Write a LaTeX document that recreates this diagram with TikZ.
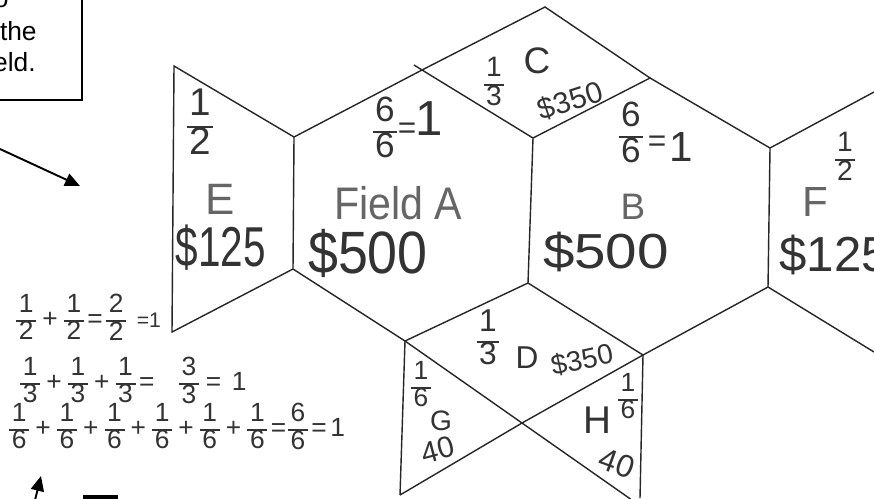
\documentclass[tikz,border=0pt]{standalone}
\usepackage{fontspec}
\setmainfont{Liberation Sans}
\usetikzlibrary{arrows.meta,calc}

\newcommand{\fr}[2]{{\renewcommand{\arraystretch}{0.8}\setlength{\arrayrulewidth}{0.8pt}\begin{tabular}{@{\hspace{1.5pt}}c@{\hspace{1.5pt}}}#1\\\hline #2\end{tabular}}}
\newcommand{\pl}{\hspace{3.5pt}+\hspace{3.5pt}}

\begin{document}
\begin{tikzpicture}[
    x=0.02cm, y=-0.02cm,
    hand/.style={inner sep=0pt, text=black!80},
    pale/.style={inner sep=0pt, text=black!60},
    cell/.style={draw=black!85, line width=0.8pt},
    boxtext/.style={inner sep=0pt, font=\fontsize{15}{18}\selectfont},
    >={Triangle[length=8.5pt,width=7.5pt]}
]
    \fill[white] (0,0) rectangle (874,498);
    \useasboundingbox (0,0) rectangle (874,498);

    % Corners of the fields
    \coordinate (eTL) at (174,66);
    \coordinate (eBL) at (172,332);
    \coordinate (aTL) at (294,137);
    \coordinate (aBL) at (293,269);
    \coordinate (cL) at (422,70);
    \coordinate (cT) at (545,7);
    \coordinate (cR) at (650,78);
    \coordinate (cB) at (533,138);
    \coordinate (cTick) at (414,65);
    \coordinate (aBR) at (528,283);
    \coordinate (fTL) at (770,148);
    \coordinate (bBR) at (768,287);
    \coordinate (fTop) at (874,92);
    \coordinate (fBot) at (874,352);
    \coordinate (dL) at (405,341);
    \coordinate (dR) at (643,355);
    \coordinate (dX) at (522,423);
    \coordinate (gB) at (400,495);
    \coordinate (hB) at (640,498);
    \coordinate (xR) at ($(dL)!1.93!(dX)$);

    \draw[cell] (eTL) -- (eBL) -- (aBL) -- (aTL) -- cycle;
    \draw[cell] (aTL) -- (cL) -- (cB) -- (aBR) -- (dL) -- (aBL);
    \draw[cell] (cL) -- (cT) -- (cR) -- (cB);
    \draw[cell] (cTick) -- (cL);
    \draw[cell] (cR) -- (fTL) -- (bBR) -- (dR) -- (aBR);
    \draw[cell] (fTL) -- (fTop);
    \draw[cell] (bBR) -- (fBot);
    \draw[cell] (dL) -- (gB);
    \draw[cell] (dR) -- (hB);
    \draw[cell] (dL) -- (dX) -- (xR);
    \draw[cell] (dR) -- (dX) -- (gB);

    % Field E
    \node[hand, font=\fontsize{22}{26}\selectfont] (eFrac) at (200,127) {\fr{1}{2}};
    \node[pale, font=\fontsize{25}{30}\selectfont] (eName) at (220,199) {E};
    \node[hand, font=\fontsize{32}{38}\selectfont, xscale=0.72] (ePrice) at (221,248) {\$125};

    % Field A
    \node[hand, font=\fontsize{20}{24}\selectfont] (aFrac) at (385,132) {\fr{6}{6}};
    \node[hand, font=\fontsize{18}{22}\selectfont] (aEq) at (407,131) {=};
    \node[hand, font=\fontsize{28}{34}\selectfont, anchor=west] (aOne) at (415,119) {1};
    \node[pale, font=\fontsize{26}{31}\selectfont, xscale=0.9] (aName) at (398,203) {Field A};
    \node[hand, font=\fontsize{34}{40}\selectfont, xscale=0.9] (aPrice) at (368,253) {\$500};

    % Field C
    \node[hand, font=\fontsize{16}{19}\selectfont] (cFrac) at (494,85) {\fr{1}{3}};
    \node[hand, font=\fontsize{21}{25}\selectfont, text depth=0pt] (cName) at (537,61) {C};
    \node[hand, font=\fontsize{17}{20}\selectfont, rotate=18, text depth=0pt] (cPrice) at (570,100) {\$350};

    % Field B
    \node[hand, font=\fontsize{20}{24}\selectfont] (bFrac) at (631,137) {\fr{6}{6}};
    \node[hand, font=\fontsize{18}{22}\selectfont] (bEq) at (657,144) {=};
    \node[hand, font=\fontsize{24}{28}\selectfont] (bOne) at (681,147) {1};
    \node[pale, font=\fontsize{21}{25}\selectfont] (bName) at (633,207) {B};
    \node[hand, font=\fontsize{28}{34}\selectfont, xscale=1.15] (bPrice) at (606,252) {\$500};

    % Field F
    \node[pale, font=\fontsize{24}{28}\selectfont] (fName) at (815,202) {F};
    \node[hand, font=\fontsize{16}{19}\selectfont] (fFrac) at (845,160) {\fr{1}{2}};
    \node[hand, font=\fontsize{28}{34}\selectfont, anchor=west] (fPrice) at (779,255) {\$125};

    % Field D
    \node[hand, font=\fontsize{18}{22}\selectfont] (dFrac) at (488,342) {\fr{1}{3}};
    \node[hand, font=\fontsize{18}{22}\selectfont] (dName) at (527,358) {D};
    \node[hand, font=\fontsize{16}{19}\selectfont, rotate=12] (dPrice) at (582,360) {\$350};

    % Fields G and H
    \node[hand, font=\fontsize{15}{18}\selectfont] (gFrac) at (421,388) {\fr{1}{6}};
    \node[hand, font=\fontsize{16}{19}\selectfont] (gName) at (441,421) {G};
    \node[hand, font=\fontsize{17}{20}\selectfont, rotate=15] (gPrice) at (438,450) {40};
    \node[hand, font=\fontsize{15}{18}\selectfont] (hFrac) at (628,400) {\fr{1}{6}};
    \node[hand, font=\fontsize{22}{26}\selectfont, text depth=0pt] (hName) at (597,420) {H};
    \node[hand, font=\fontsize{18}{22}\selectfont, rotate=-20, text depth=0pt] (hPrice) at (617,463) {40};

    % Sums
    \node[hand, font=\fontsize{15}{18}\selectfont, anchor=west] (sumHalf) at (16,321)
        {\fr12\pl\fr12\hspace{2pt}=\hspace{2pt}\fr22\hspace{6pt}{\fontsize{12}{14}\selectfont =1}};
    \node[hand, font=\fontsize{15}{18}\selectfont, anchor=west] (sumThird) at (20,384)
        {\fr13\pl\fr13\pl\fr13\hspace{2pt}=\hspace{14pt}\fr33\hspace{4pt}=\hspace{6pt}1};
    \node[hand, font=\fontsize{15}{18}\selectfont, anchor=west] (sumSixth) at (9,430)
        {\fr16\pl\fr16\pl\fr16\pl\fr16\pl\fr16\pl\fr16\hspace{2pt}=\hspace{1pt}\fr66\hspace{2pt}=\hspace{2pt}1};

    % Note box, cut by the page edge
    \node[draw, line width=0.7pt, minimum width=2.04cm, minimum height=2.4cm] (note) at (31,40) {};
    \node[boxtext, anchor=base east] (noteA) at (9,7) {o};
    \node[boxtext, anchor=base east] (noteB) at (37,40) {the};
    \node[boxtext, anchor=base east] (noteC) at (36,71) {eld.};

    % Pointers
    \coordinate (arrTail) at (0,149);
    \coordinate (arrTip) at (80,186);
    \draw[->, line width=1.1pt] (arrTail) -- (arrTip);
    \coordinate (upTail) at (35,500);
    \coordinate (upTip) at (41,476);
    \draw[->, line width=1.1pt] (upTail) -- (upTip);
    \coordinate (barL) at (83,497);
    \coordinate (barR) at (118,497);
    \draw[line width=2pt] (barL) -- (barR);
\end{tikzpicture}
\end{document}
